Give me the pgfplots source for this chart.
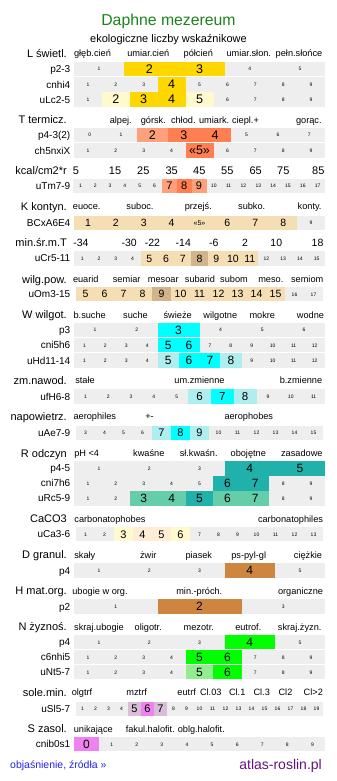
\documentclass[border=0pt]{standalone}
\usepackage{pgfplots}
\pgfplotsset{compat=1.18}
\usepackage{fontspec}
\setmainfont{Liberation Sans}
\definecolor{cgray}{RGB}{238,238,238}
\definecolor{Lgold}{RGB}{255,215,0}
\definecolor{Llight}{RGB}{255,250,205}
\definecolor{Tlight}{RGB}{255,160,122}
\definecolor{Tdark}{RGB}{255,127,80}
\definecolor{Kw}{RGB}{245,222,179}
\definecolor{Kt}{RGB}{210,180,140}
\definecolor{Wc}{RGB}{0,255,255}
\definecolor{Wp}{RGB}{175,238,238}
\definecolor{Rs}{RGB}{32,178,170}
\definecolor{Rm}{RGB}{102,205,170}
\definecolor{Cl}{RGB}{255,250,205}
\definecolor{Cp}{RGB}{255,237,213}
\definecolor{Dp}{RGB}{205,133,63}
\definecolor{Ng}{RGB}{0,255,0}
\definecolor{Nl}{RGB}{144,238,144}
\definecolor{St}{RGB}{216,191,216}
\definecolor{Sv}{RGB}{238,130,238}
\definecolor{titlegreen}{RGB}{28,130,28}
\definecolor{linkblue}{RGB}{35,35,235}
\definecolor{sitepurple}{RGB}{100,20,120}

\newcommand\hl[6][]{\node[inner sep=0pt, anchor=#4, yshift={-0.358*#5pt}, font=\fontsize{#5}{#5}\selectfont, #1] at (axis cs:#2,#3) {#6};}
\newcommand\seclab[2]{\hl{67}{#1}{base east}{11}{#2}}
\newcommand\rowlab[2]{\hl{70.5}{#1}{base east}{10}{#2}}
\newcommand\colh[3]{\hl{#1}{#2}{base}{9.2}{#3}}

\newcommand\drow[6]{%
  \pgfmathsetmacro\cw{(#3-#2)/#4}%
  \pgfmathsetmacro\ya{#1-7.25}%
  \pgfmathsetmacro\yb{#1+7.25}%
  \edef\temp{\noexpand\addplot[fill=cgray, draw=none, forget plot] coordinates {(#2,\ya) (#3,\ya) (#3,\yb) (#2,\yb)};}\temp
  \foreach \lab/\col/\flag [count=\k from 0] in {#6} {%
    \pgfmathsetmacro\xa{#2+\k*\cw}%
    \pgfmathsetmacro\xb{#2+(\k+1)*\cw+0.25}%
    \pgfmathsetmacro\xc{#2+(\k+0.5)*\cw}%
    \ifnum\flag=0\relax
      \edef\temp{\noexpand\node[inner sep=0pt, anchor=base, yshift=-1.8pt, font=\noexpand\fontsize{5}{5}\noexpand\selectfont] at (axis cs:\xc,#1) {\lab};}%
    \else
      \ifnum\flag=1\relax \def\fs{#5}\else \def\fs{7}\fi
      \pgfmathsetmacro\ysh{-0.358*\fs}%
      \edef\temp{\noexpand\addplot[fill=\col, draw=none, forget plot] coordinates {(\xa,\ya) (\xb,\ya) (\xb,\yb) (\xa,\yb)}; \noexpand\node[inner sep=0pt, anchor=base, yshift=\ysh pt, font=\noexpand\fontsize{\fs}{\fs}\noexpand\selectfont] at (axis cs:\xc,#1) {\lab};}%
    \fi
    \temp
  }%
}

\begin{document}
\begin{tikzpicture}
\useasboundingbox (0,0) rectangle (337pt,781pt);
\begin{axis}[at={(0,0)}, anchor=south west, scale only axis, width=337pt, height=781pt,
  xmin=0, xmax=337, ymin=0, ymax=781, y dir=reverse, hide axis, clip=false]

% title
\hl[text=titlegreen]{168.5}{19.7}{base}{15.8}{Daphne mezereum}
\hl{168.5}{38.3}{base}{11}{ekologiczne liczby wskaźnikowe}

% L
\seclab{53.5}{L świetl.}
\colh{92.5}{53.5}{głęb.cień}\colh{148.3}{53.5}{umiar.cień}\colh{198.3}{53.5}{półcień}\colh{248.8}{53.5}{umiar.słon.}\colh{299}{53.5}{pełn.słońce}
\rowlab{69.2}{p2-3}\rowlab{84.5}{cnhi4}\rowlab{99.5}{uLc2-5}
\drow{69.2}{74}{325}{5}{12.5}{1/g/0,2/Lgold/1,3/Lgold/1,4/g/0,5/g/0}
\drow{84.5}{74}{325}{9}{12.5}{1/g/0,2/g/0,3/g/0,4/Lgold/1,5/g/0,6/g/0,7/g/0,8/g/0,9/g/0}
\drow{99.5}{74}{325}{9}{12.5}{1/g/0,2/Llight/1,3/Lgold/1,4/Lgold/1,5/Llight/1,6/g/0,7/g/0,8/g/0,9/g/0}

% T
\seclab{120}{T termicz.}
\colh{120.8}{120}{alpej.}\colh{153.3}{120}{górsk.}\colh{183.3}{120}{chłod.}\colh{214.2}{120}{umiark.}\colh{245.5}{120}{ciepl.+}\colh{308.8}{120}{gorąc.}
\rowlab{135}{p4-3(2)}\rowlab{150.5}{ch5nxiX}
\drow{135}{74}{325}{8}{12.5}{0/g/0,1/g/0,2/Tlight/1,3/Tdark/1,4/Tdark/1,5/g/0,6/g/0,7/g/0}
\drow{150.5}{74}{325}{9}{12.5}{1/g/0,2/g/0,3/g/0,4/g/0,«5»/Tdark/1,6/g/0,7/g/0,8/g/0,9/g/0}

\seclab{170.7}{kcal/cm2*r}
\hl{76}{170.7}{base}{11}{5}\hl{115}{170.7}{base}{11}{15}\hl{143.3}{170.7}{base}{11}{25}\hl{171.7}{170.7}{base}{11}{35}\hl{199.3}{170.7}{base}{11}{45}\hl{227.3}{170.7}{base}{11}{55}\hl{255.7}{170.7}{base}{11}{65}\hl{283.3}{170.7}{base}{11}{75}\hl{318.3}{170.7}{base}{11}{85}
\rowlab{185.8}{uTm7-9}
\drow{185.8}{73}{325}{17}{11}{1/g/0,2/g/0,3/g/0,4/g/0,5/g/0,6/g/0,7/Tlight/1,8/Tdark/1,9/Tlight/1,10/g/0,11/g/0,12/g/0,13/g/0,14/g/0,15/g/0,16/g/0,17/g/0}

% K
\seclab{206.7}{K kontyn.}
\colh{86.7}{206.7}{euoce.}\colh{140}{206.7}{suboc.}\colh{198.3}{206.7}{przejś.}\colh{251.7}{206.7}{subko.}\colh{309.6}{206.7}{konty.}
\rowlab{223}{BCxA6E4}
\drow{223}{74}{325}{9}{10.5}{1/Kw/1,2/Kw/1,3/Kw/1,4/Kw/1,«5»/Kw/2,6/Kw/1,7/Kw/1,8/Kw/1,9/g/0}

\seclab{242.3}{min.śr.m.T}
\hl{81}{242.3}{base}{10.5}{-34}\hl{129.2}{242.3}{base}{10.5}{-30}\hl{152.5}{242.3}{base}{10.5}{-22}\hl{183.3}{242.3}{base}{10.5}{-14}\hl{213.8}{242.3}{base}{10.5}{-6}\hl{245}{242.3}{base}{10.5}{2}\hl{276.3}{242.3}{base}{10.5}{10}\hl{317.5}{242.3}{base}{10.5}{18}
\rowlab{258.3}{uCr5-11}
\drow{258.3}{74}{325}{15}{10.5}{1/g/0,2/g/0,3/g/0,4/g/0,5/Kw/1,6/Kw/1,7/Kw/1,8/Kt/1,9/Kw/1,10/Kw/1,11/Kw/1,12/g/0,13/g/0,14/g/0,15/g/0}

\seclab{279.3}{wilg.pow.}
\colh{85.8}{279.3}{euarid}\colh{126.7}{279.3}{semiar}\colh{163.3}{279.3}{mesoar}\colh{200}{279.3}{subarid}\colh{234}{279.3}{subom}\colh{270.8}{279.3}{meso.}\colh{307.2}{279.3}{semiom}
\rowlab{294.2}{uOm3-15}
\drow{294.2}{76}{323}{13}{10.5}{5/Kw/1,6/Kw/1,7/Kw/1,8/Kw/1,9/Kt/1,10/Kw/1,11/Kw/1,12/Kw/1,13/Kw/1,14/Kw/1,15/Kw/1,16/g/0,17/g/0}

% W
\seclab{315}{W wilgot.}
\colh{89.7}{315}{b.suche}\colh{135.5}{315}{suche}\colh{177.7}{315}{świeże}\colh{220.3}{315}{wilgotne}\colh{262.3}{315}{mokre}\colh{310.5}{315}{wodne}
\rowlab{329.8}{p3}\rowlab{345.2}{cni5h6}\rowlab{360.5}{uHd11-14}
\drow{329.8}{74}{325}{6}{12}{1/g/0,2/g/0,3/Wc/1,4/g/0,5/g/0,6/g/0}
\drow{345.2}{74}{325}{12}{12}{1/g/0,2/g/0,3/g/0,4/g/0,5/Wc/1,6/Wc/1,7/g/0,8/g/0,9/g/0,10/g/0,11/g/0,12/g/0}
\drow{360.5}{74}{325}{12}{12}{1/g/0,2/g/0,3/g/0,4/g/0,5/Wp/1,6/Wc/1,7/Wc/1,8/Wp/1,9/g/0,10/g/0,11/g/0,12/g/0}

\seclab{380.7}{zm.nawod.}
\colh{85}{380.7}{stałe}\colh{199.5}{380.7}{um.zmienne}\colh{301}{380.7}{b.zmienne}
\rowlab{396.5}{ufH6-8}
\drow{396.5}{74}{325}{11}{11.5}{1/g/0,2/g/0,3/g/0,4/g/0,5/g/0,6/Wp/1,7/Wc/1,8/Wp/1,9/g/0,10/g/0,11/g/0}

\seclab{416.7}{napowietrz.}
\colh{94.8}{416.7}{aerophiles}\colh{149.5}{416.7}{+-}\colh{248.8}{416.7}{aerophobes}
\rowlab{433}{uAe7-9}
\drow{433}{76}{323}{13}{11}{3/g/0,4/g/0,5/g/0,6/g/0,7/Wp/1,8/Wc/1,9/Wp/1,10/g/0,11/g/0,12/g/0,13/g/0,14/g/0,15/g/0}

% R
\seclab{453.3}{R odczyn}
\colh{86.7}{453.3}{pH <4}\colh{148.8}{453.3}{kwaśne}\colh{198.7}{453.3}{sł.kwaśn.}\colh{248.3}{453.3}{obojętne}\colh{301.8}{453.3}{zasadowe}
\rowlab{468.3}{p4-5}\rowlab{483.3}{cni7h6}\rowlab{498.3}{uRc5-9}
\drow{468.3}{74}{325}{5}{12}{1/g/0,2/g/0,3/g/0,4/Rs/1,5/Rs/1}
\drow{483.3}{74}{325}{9}{12}{1/g/0,2/g/0,3/g/0,4/g/0,5/g/0,6/Rs/1,7/Rs/1,8/g/0,9/g/0}
\drow{498.3}{74}{325}{9}{12}{1/g/0,2/g/0,3/Rm/1,4/Rm/1,5/Rs/1,6/Rm/1,7/Rm/1,8/g/0,9/g/0}

\seclab{519}{CaCO3}
\colh{110}{519}{carbonatophobes}\colh{290.5}{519}{carbonatophiles}
\rowlab{534.2}{uCa3-6}
\drow{534.2}{76}{323}{13}{11}{1/g/0,2/g/0,3/Cl/1,4/Cp/1,5/Cp/1,6/Cl/1,7/g/0,8/g/0,9/g/0,10/g/0,11/g/0,12/g/0,13/g/0}

% D
\seclab{555}{D granul.}
\colh{84.8}{555}{skały}\colh{148.3}{555}{żwir}\colh{198.8}{555}{piasek}\colh{248.7}{555}{ps-pyl-gl}\colh{308}{555}{ciężkie}
\rowlab{570.5}{p4}
\drow{570.5}{74}{325}{5}{12}{1/g/0,2/g/0,3/g/0,4/Dp/1,5/g/0}

% H
\seclab{590.7}{H mat.org.}
\colh{100}{590.7}{ubogie w org.}\colh{199.3}{590.7}{min.-próch.}\colh{300.5}{590.7}{organiczne}
\rowlab{606.5}{p2}
\drow{606.5}{74}{325}{3}{12}{1/g/0,2/Dp/1,3/g/0}

% N
\seclab{626.7}{N żyznoś.}
\colh{99}{626.7}{skraj.ubogie}\colh{148.3}{626.7}{oligotr.}\colh{198.8}{626.7}{mezotr.}\colh{248.3}{626.7}{eutrof.}\colh{299.7}{626.7}{skraj.żyzn.}
\rowlab{642.2}{p4}\rowlab{657.2}{c6nhi5}\rowlab{672.2}{uNt5-7}
\drow{642.2}{74}{325}{5}{12}{1/g/0,2/g/0,3/g/0,4/Ng/1,5/g/0}
\drow{657.2}{74}{325}{9}{12}{1/g/0,2/g/0,3/g/0,4/g/0,5/Ng/1,6/Ng/1,7/g/0,8/g/0,9/g/0}
\drow{672.2}{74}{325}{9}{12}{1/g/0,2/g/0,3/g/0,4/g/0,5/Nl/1,6/Ng/1,7/g/0,8/g/0,9/g/0}

% sole
\seclab{692.3}{sole.min.}
\colh{82}{692.3}{olgtrf}\colh{136.7}{692.3}{mztrf}\colh{186.7}{692.3}{eutrf}\colh{210.8}{692.3}{Cl.03}\colh{237.2}{692.3}{Cl.1}\colh{261.7}{692.3}{Cl.3}\colh{285.5}{692.3}{Cl2}\colh{313.3}{692.3}{Cl>2}
\rowlab{708.8}{uSl5-7}
\drow{708.8}{76}{323}{19}{11}{1/g/0,2/g/0,3/g/0,4/g/0,5/St/1,6/Sv/1,7/St/1,8/g/0,9/g/0,10/g/0,11/g/0,12/g/0,13/g/0,14/g/0,15/g/0,16/g/0,17/g/0,18/g/0,19/g/0}

% S
\seclab{729}{S zasol.}
\colh{93.3}{729}{unikające}\colh{150.3}{729}{fakul.halofit.}\colh{201.3}{729}{oblg.halofit.}
\rowlab{744.2}{cnib0s1}
\drow{744.2}{74}{325}{10}{12}{0/Sv/1,1/g/0,2/g/0,3/g/0,4/g/0,5/g/0,6/g/0,7/g/0,8/g/0,9/g/0}

% footer
\hl[text=linkblue]{10}{765}{base west}{10.5}{objaśnienie, źródła »}
\hl[text=sitepurple]{322}{764}{base east}{14}{atlas-roslin.pl}
\end{axis}
\end{tikzpicture}
\end{document}
